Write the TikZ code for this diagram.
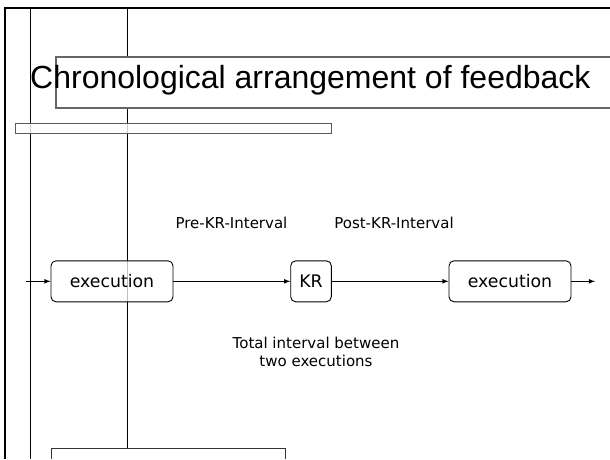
\documentclass[tikz,border=0pt]{standalone}
\usepackage{fontspec}
\setmainfont{DejaVu Sans}
\newfontfamily\titlefont{Liberation Sans}
\usetikzlibrary{positioning}

\tikzset{
  stepbox/.style={rectangle,rounded corners=5pt,draw,line width=0.9pt,fill=white,fill opacity=0.75,text opacity=1,minimum height=41pt,font=\fontsize{17.3}{20}\selectfont},
  flow/.style={-latex,line width=1.1pt},
  gaplabel/.style={font=\fontsize{15}{18}\selectfont,align=center},
  guide/.style={line width=0.8pt},
  panel/.style={draw=black!60,line width=1.2pt,fill=white}
}

\begin{document}
\begin{tikzpicture}[x=1pt,y=-1pt,node distance=199pt]
	\useasboundingbox (0,0) rectangle (610,459);

	% frame and guide lines
	\draw[line width=2.4pt] (5,459) -- (5,8) -- (610,8);
	\draw[guide] (30.7,8) -- (30.7,459);
	\draw[guide] (127.3,8) -- (127.3,448.5);

	% title
	\path[panel] (610,57) -- (56,57) -- (56,108) -- (610,108);
	\node[anchor=base west,inner sep=0pt,font=\titlefont\fontsize{32}{38}\selectfont] (title) at (30,88.5) {Chronological arrangement of feedback};
	\path[draw=black!65,line width=1pt,fill=white,fill opacity=0.8] (15.3,123.3) rectangle (331.5,133);

	% process row
	\node[stepbox,minimum width=122pt] (exec1) at (112,281.3) {execution};
	\node[stepbox,minimum width=40.6pt,right of=exec1] (kr) {KR};
	\node[stepbox,minimum width=122pt,right of=kr] (exec2) {execution};
	\coordinate (start) at (26,281.3);
	\coordinate (stop) at (595,281.3);
		\draw[flow] (start) -- (exec1);
		\draw[flow] (exec1) -- (kr);
		\draw[flow] (kr) -- (exec2);
		\draw[flow] (exec2) -- (stop);

	% intervals
	\node[gaplabel,anchor=base] (pre) at (231.5,228) {Pre-KR-Interval};
	\node[gaplabel,anchor=base] (post) at (394,228) {Post-KR-Interval};
	\node[gaplabel] (total) at (316,351.5) {Total interval between\\two executions};

	% lower box
	\path[panel,draw=black!80,line width=1pt] (51,459) -- (51,448.5) -- (285.7,448.5) -- (285.7,459);
\end{tikzpicture}
\end{document}
